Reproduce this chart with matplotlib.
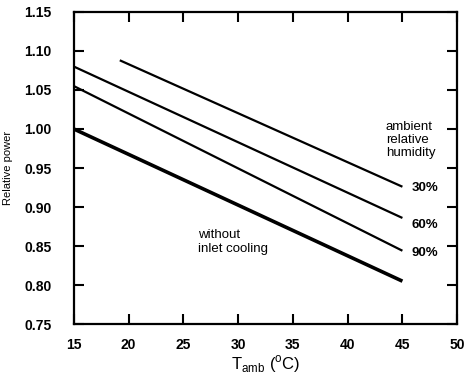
import matplotlib
matplotlib.use("Agg")
import matplotlib.pyplot as plt

plt.rcParams['font.family'] = ['Liberation Sans', 'DejaVu Sans']

# relative power vs ambient temperature
t_no_cooling = [15, 45]
p_no_cooling = [1.000, 0.805]

t_rh90 = [15, 45]
p_rh90 = [1.055, 0.844]

t_rh60 = [15, 45]
p_rh60 = [1.080, 0.886]

t_rh30 = [19.2, 45]
p_rh30 = [1.088, 0.926]

humidity_labels = ["30%", "60%", "90%"]
xticks = [15, 20, 25, 30, 35, 40, 45, 50]
yticks = [0.75, 0.80, 0.85, 0.90, 0.95, 1.00, 1.05, 1.10, 1.15]

fig = plt.figure(figsize=(4.67, 3.84), dpi=100)
ax = fig.add_axes([0.158, 0.156, 0.821, 0.813])

ax.plot(t_no_cooling, p_no_cooling, color='black', lw=2.6, solid_capstyle='butt')
ax.plot(t_rh90, p_rh90, color='black', lw=1.6, solid_capstyle='butt')
ax.plot(t_rh60, p_rh60, color='black', lw=1.6, solid_capstyle='butt')
ax.plot(t_rh30, p_rh30, color='black', lw=1.6, solid_capstyle='butt')

ax.set_xlim(15, 50)
ax.set_ylim(0.75, 1.15)
ax.set_xticks(xticks)
ax.set_yticks(yticks)
ax.set_xticklabels([str(v) for v in xticks], fontsize=10, fontweight='bold')
ax.set_yticklabels([f"{v:.2f}" for v in yticks], fontsize=10, fontweight='bold')
ax.tick_params(direction='in', length=7, width=1.5, top=True, right=True)
ax.tick_params(axis='y', pad=16)
ax.tick_params(axis='x', pad=10)
for s in ax.spines.values():
    s.set_linewidth(1.6)

ax.set_ylabel("Relative power", fontsize=8, labelpad=8)
ax.set_xlabel(r"T$_{\mathregular{amb}}$ ($^{\mathregular{o}}$C)", fontsize=12, labelpad=1)

ax.text(43.5, 0.986, "ambient\nrelative\nhumidity", fontsize=9.5,
        va='center', ha='left', linespacing=1.15)
for y, lab in zip([0.925, 0.877, 0.841], humidity_labels):
    ax.text(45.8, y, lab, fontsize=9.5, fontweight='bold', va='center', ha='left')
ax.text(26.3, 0.855, "without\ninlet cooling", fontsize=9.5,
        va='center', ha='left', linespacing=1.15)

fig.savefig("out.png", dpi=100)
